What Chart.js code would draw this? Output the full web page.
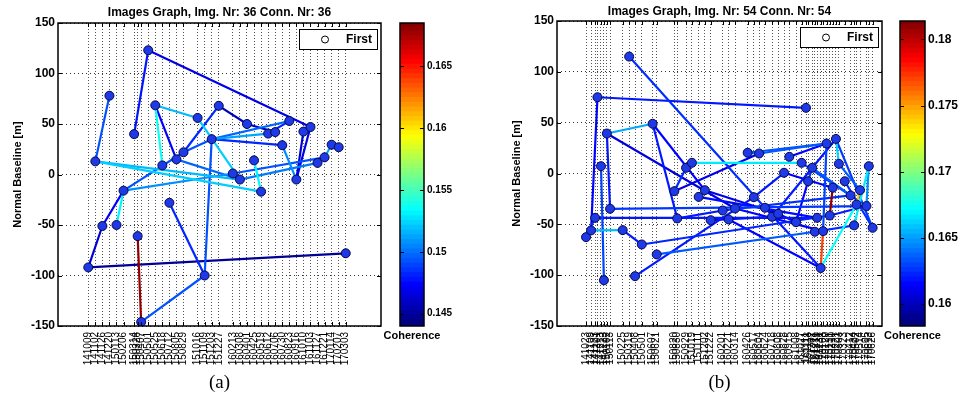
<!DOCTYPE html>
<html lang="en">
<head>
  <meta charset="UTF-8" />
  <title>Images Graph</title>
  <style>
    body {
      margin: 0;
      background: #fff;
      width: 961px;
      height: 404px;
      overflow: hidden;
      position: relative;
    }
    canvas {
      position: absolute;
      top: 0;
    }
    #chartA { left: 0; }
    #barA { left: 362px; }
    #chartB { left: 499px; }
    #barB { left: 862px; }
  </style>
</head>
<body>
  <canvas id="chartA" width="400" height="404"></canvas>
  <canvas id="chartB" width="400" height="404"></canvas>
  <canvas id="barA" width="100" height="404"></canvas>
  <canvas id="barB" width="99" height="404"></canvas>

  <script src="https://cdn.jsdelivr.net/npm/chart.js"></script>
  <script>
    // (a) 36 images, 36 connections
    const datesA = ['141009','141102','141126','141220','150113','150206','150314','150326','150407','150501',
      '150525','150618','150712','150805','150829','151016','151109','151203','151227','160213',
      '160308','160401','160425','160519','160612','160706','160730','160823','160916','161010',
      '161103','161127','161221','170114','170207','170303'];
    const baseA = [-92, 13, -51, 78, -50, -16, 40, -61, -146, 123,
      68.5, 9, -28, 15, 22, 56, -100, 35, 68, 1,
      -5, 50, 14, -17, 40.5, 42, 29, 53, -5, 42.5,
      47, 11.5, 17, 29.5, 27, -78];
    const fromA = [9, 6, 3, 10, 10, 10, 15, 18, 18, 21, 17, 16, 8, 12, 0, 0, 2, 4, 5, 5,
      1, 1, 17, 17, 17, 27, 22, 29, 30, 32, 33, 19, 20, 26, 13, 24];
    const toA = [30, 9, 1, 15, 11, 13, 20, 14, 21, 25, 16, 8, 7, 16, 35, 2, 5, 5, 19, 14,
      23, 20, 26, 24, 14, 17, 23, 28, 28, 33, 34, 32, 31, 28, 20, 27];
    const cohA = [0.1465, 0.1475, 0.149, 0.1515, 0.1535, 0.147, 0.152, 0.148, 0.1455, 0.146,
      0.149, 0.149, 0.168, 0.148, 0.1445, 0.146, 0.147, 0.153, 0.1505, 0.149,
      0.152, 0.1515, 0.148, 0.151, 0.149, 0.1495, 0.153, 0.146, 0.1465, 0.151,
      0.15, 0.149, 0.15, 0.1505, 0.1495, 0.148];
    const cbRangeA = [0.144, 0.1685];
    const cbTicksA = [0.145, 0.15, 0.155, 0.16, 0.165];

    // (b) 54 images, 54 connections
    const datesB = ['141023','141109','141123','141201','141213','141223','150102','150113','150225','150319',
      '150408','150501','150607','150621','150820','150830','150929','151019','151111','151202',
      '151222','160201','160221','160314','160426','160517','160604','160624','160718','160808',
      '160828','160915','161008','161027','161111','161118','161202','161211','161219','161231',
      '170108','170120','170131','170210','170221','170303','170323','170412','170424','170502',
      '170514','170605','170613','170626'];
    const baseB = [-62.6, -56, -43.6, 75, 7.2, -105, 39.3, -34.7, -55.7, 115,
      -101, -69.8, 48.9, -79.6, -17.4, -44.2, 5.6, 10.5, -23, -16.4,
      -45.9, -36.4, -45.2, -34.4, 20.4, -23.3, 19.7, -33.7, -42.6, -39.6,
      0.7, 16.4, -47.9, 10.5, 64.6, -7.6, 5.6, -57.3, -43.6, -93,
      -56.7, 29.5, -41.3, -14, 34, 9.5, -7.6, -21.6, -51, -30.5,
      -16.4, -32, 7.2, -53.4];
    const fromB = [3, 3, 0, 1, 4, 6, 6, 6, 12, 9, 2, 7, 10, 11, 13, 14, 16, 17, 24, 26,
      28, 31, 41, 44, 44, 43, 40, 39, 50, 52, 51, 27, 22, 46, 36, 30, 18, 19, 20, 21,
      15, 14, 32, 33, 35, 24, 29, 25, 37, 8, 12, 45, 42, 23];
    const toB = [34, 1, 2, 8, 5, 12, 7, 23, 15, 27, 38, 51, 25, 42, 37, 16, 17, 33, 41, 41,
      44, 41, 40, 53, 45, 42, 39, 49, 49, 48, 52, 39, 39, 53, 47, 43, 38, 29, 28, 47,
      21, 26, 35, 47, 36, 26, 32, 30, 48, 11, 19, 50, 51, 40];
    const cohB = [0.1617, 0.1612, 0.1622, 0.1655, 0.1627, 0.165, 0.1617, 0.1604, 0.1617, 0.1622,
      0.1617, 0.1624, 0.1617, 0.162, 0.1632, 0.1622, 0.164, 0.1665, 0.163, 0.1632,
      0.1617, 0.1612, 0.1627, 0.1625, 0.166, 0.181, 0.177, 0.167, 0.174, 0.1665,
      0.1645, 0.1617, 0.1612, 0.1622, 0.1632, 0.161, 0.1614, 0.1607, 0.1612, 0.1622,
      0.1617, 0.1607, 0.1612, 0.1627, 0.1624, 0.164, 0.161, 0.1617, 0.1622, 0.1617,
      0.1612, 0.1632, 0.1617, 0.1612];
    const cbRangeB = [0.1583, 0.1814];
    const cbTicksB = [0.16, 0.165, 0.17, 0.175, 0.18];

    Chart.defaults.font.family = '"Liberation Sans", Arial, sans-serif';
    Chart.defaults.color = '#000';

    const toDay = s => Date.UTC(2000 + +s.slice(0, 2), +s.slice(2, 4) - 1, +s.slice(4, 6)) / 864e5;

    // matlab jet colormap
    function jet(t) {
      t = Math.max(0, Math.min(1, t));
      const c = v => Math.round(255 * Math.max(0, Math.min(1, v)));
      return `rgb(${c(Math.min(4 * t - 1.5, -4 * t + 4.5))},${c(Math.min(4 * t - 0.5, -4 * t + 3.5))},${c(Math.min(4 * t + 0.5, -4 * t + 2.5))})`;
    }

    // axes box with inward tick marks, like matlab
    const frame = {
      id: 'frame',
      afterDraw(chart) {
        const { ctx, chartArea: a, scales } = chart;
        const len = 4;
        ctx.save();
        ctx.strokeStyle = '#000';
        ctx.lineWidth = 1;
        ctx.beginPath();
        if (chart.config.type !== 'bar') {
          scales.x.ticks.forEach(t => {
            const px = Math.round(scales.x.getPixelForValue(t.value)) + 0.5;
            ctx.moveTo(px, a.bottom); ctx.lineTo(px, a.bottom - len);
            ctx.moveTo(px, a.top); ctx.lineTo(px, a.top + len);
          });
        }
        scales.y.ticks.forEach(t => {
          const py = Math.round(scales.y.getPixelForValue(t.value)) + 0.5;
          ctx.moveTo(a.left, py); ctx.lineTo(a.left + len, py);
          ctx.moveTo(a.right, py); ctx.lineTo(a.right - len, py);
        });
        ctx.stroke();
        ctx.lineWidth = 1.5;
        ctx.strokeRect(a.left, a.top, a.right - a.left, a.bottom - a.top);
        ctx.restore();
      }
    };

    const firstBox = {
      id: 'firstBox',
      afterDraw(chart, args, opts) {
        const { ctx, chartArea: a } = chart;
        const x = Math.round(a.right - 82), y = Math.round(a.top + 6);
        ctx.save();
        ctx.fillStyle = '#fff';
        ctx.fillRect(x, y, 78, 20);
        ctx.strokeStyle = '#000';
        ctx.lineWidth = 1;
        ctx.strokeRect(x + 0.5, y + 0.5, 78, 20);
        ctx.beginPath();
        ctx.arc(x + 26, y + 10.5, 3.5, 0, Math.PI * 2);
        ctx.stroke();
        ctx.fillStyle = '#000';
        ctx.font = 'bold 12px "Liberation Sans", Arial, sans-serif';
        ctx.textBaseline = 'middle';
        ctx.fillText(opts.text, x + 47, y + 11);
        ctx.restore();
      }
    };

    const cbLabel = {
      id: 'cbLabel',
      afterDraw(chart, args, opts) {
        const { ctx, chartArea: a } = chart;
        ctx.save();
        ctx.fillStyle = '#000';
        ctx.font = 'bold 11px "Liberation Sans", Arial, sans-serif';
        ctx.textAlign = 'center';
        ctx.textBaseline = 'middle';
        ctx.fillText(opts.text, (a.left + a.right) / 2, a.bottom + 10);
        ctx.restore();
      }
    };

    function graphChart(id, cfg) {
      const days = cfg.dates.map(toDay);
      const [lo, hi] = cfg.range;
      const edges = cfg.from.map((f, i) => {
        const t = (cfg.coh[i] - lo) / (hi - lo);
        const e = cfg.to[i];
        return {
          data: [{ x: days[f], y: cfg.base[f] }, { x: days[e], y: cfg.base[e] }],
          showLine: true,
          borderColor: jet(t),
          borderWidth: 2.2,
          pointRadius: 0,
          order: 200 - Math.round(t * 100)
        };
      });
      const nodes = {
        data: days.map((d, i) => ({ x: d, y: cfg.base[i] })),
        pointRadius: 4.5,
        pointBackgroundColor: '#1e3ae6',
        pointBorderColor: '#06064a',
        pointBorderWidth: 1,
        order: 0
      };

      return new Chart(document.getElementById(id), {
        type: 'scatter',
        data: { datasets: [nodes, ...edges] },
        plugins: [frame, firstBox],
        options: {
          responsive: false,
          animation: false,
          events: [],
          layout: { padding: cfg.pad },
          plugins: {
            legend: { display: false },
            tooltip: { enabled: false },
            title: {
              display: true, text: cfg.title, fullSize: false,
              font: { size: 12, weight: 'bold' }, padding: cfg.titlePad
            },
            firstBox: { text: 'First' }
          },
          scales: {
            x: {
              type: 'linear',
              min: days[0] - cfg.xPad[0],
              max: days[days.length - 1] + cfg.xPad[1],
              afterBuildTicks: s => { s.ticks = days.map(v => ({ value: v })); },
              afterFit: s => { s.height = 78; },
              ticks: {
                autoSkip: false, minRotation: 90, maxRotation: 90, padding: 6,
                font: { size: 10 },
                callback: (v, i) => cfg.dates[i]
              },
              grid: { drawTicks: false, color: '#555', lineWidth: 1 },
              border: { display: false, dash: [1, 2] },
              title: {
                display: true, text: cfg.caption,
                font: { family: '"Liberation Serif", "Times New Roman", serif', size: 19 },
                padding: { top: 0, bottom: 10 }
              }
            },
            y: {
              min: -150, max: 150,
              afterFit: s => { s.width = 58; },
              ticks: { stepSize: 50, padding: 3, font: { size: 12, weight: 'bold' } },
              grid: { drawTicks: false, color: '#333', lineWidth: 1 },
              border: { display: false, dash: [1, 3] },
              title: {
                display: true, text: 'Normal Baseline [m]',
                font: { size: 11, weight: 'bold' }, padding: { top: 11.4, bottom: 0 }
              }
            }
          }
        }
      });
    }

    function colorbar(id, cfg) {
      const [lo, hi] = cfg.range;
      const n = 64, step = (hi - lo) / n;
      const bands = [];
      for (let i = 0; i < n; i++) {
        bands.push({
          data: [[lo + i * step, lo + (i + 1.3) * step]],
          backgroundColor: jet(i / (n - 1)),
          borderWidth: 0,
          grouped: false,
          barPercentage: 1,
          categoryPercentage: 1
        });
      }
      return new Chart(document.getElementById(id), {
        type: 'bar',
        data: { labels: [''], datasets: bands },
        plugins: [frame, cbLabel],
        options: {
          responsive: false,
          animation: false,
          events: [],
          layout: { padding: cfg.pad },
          plugins: {
            legend: { display: false },
            tooltip: { enabled: false },
            cbLabel: { text: 'Coherence' }
          },
          scales: {
            x: { display: false },
            y: {
              position: 'right', min: lo, max: hi,
              afterBuildTicks: s => { s.ticks = cfg.ticks.map(v => ({ value: v })); },
              afterFit: s => { s.width = cfg.axisW; },
              ticks: { padding: 3, font: { size: cfg.font, weight: 'bold' }, callback: (v, i) => String(cfg.ticks[i]) },
              grid: { display: false, drawTicks: false },
              border: { display: false }
            }
          }
        }
      });
    }

    graphChart('chartA', {
      dates: datesA, base: baseA, from: fromA, to: toA, coh: cohA, range: cbRangeA,
      title: 'Images Graph, Img. Nr: 36 Conn. Nr: 36', caption: '(a)',
      pad: { left: 0, right: 19, top: 0, bottom: 0 }, titlePad: { top: 5, bottom: 3.6 },
      xPad: [103, 120]
    });
    graphChart('chartB', {
      dates: datesB, base: baseB, from: fromB, to: toB, coh: cohB, range: cbRangeB,
      title: 'Images Graph, Img. Nr: 54 Conn. Nr: 54', caption: '(b)',
      pad: { left: 0, right: 17, top: 0, bottom: 0 }, titlePad: { top: 4, bottom: 2.6 },
      xPad: [99, 32]
    });
    colorbar('barA', { range: cbRangeA, ticks: cbTicksA, axisW: 38, font: 10,
      pad: { left: 38, right: 0, top: 23, bottom: 78 } });
    colorbar('barB', { range: cbRangeB, ticks: cbTicksB, axisW: 36, font: 12,
      pad: { left: 38, right: 0, top: 21, bottom: 78 } });
  </script>
</body>
</html>
